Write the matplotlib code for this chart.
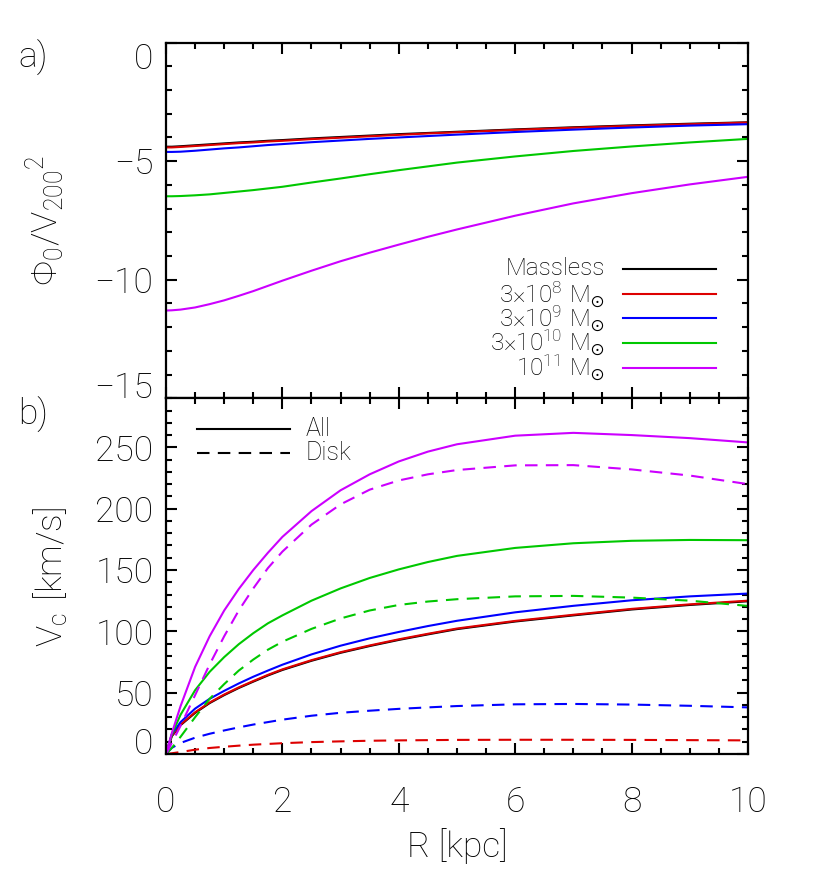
import matplotlib
matplotlib.use("Agg")
import matplotlib.pyplot as plt
from matplotlib.ticker import MultipleLocator

plt.rcParams['font.family'] = ['Roboto', 'DejaVu Sans']
plt.rcParams['font.weight'] = 'light'
plt.rcParams['axes.labelweight'] = 'light'
plt.rcParams['mathtext.fontset'] = 'dejavusans'
plt.rcParams['mathtext.default'] = 'regular'
plt.rcParams['axes.unicode_minus'] = True

# radius grid [kpc]
R = [0, 0.1, 0.25, 0.5, 0.75, 1, 1.25, 1.5, 1.75, 2, 2.5, 3, 3.5, 4, 4.5, 5, 6, 7, 8, 9, 10]

# panel a: central potential / V200^2
phi_massless = [-4.39, -4.39, -4.37, -4.33, -4.29, -4.25, -4.21, -4.18, -4.14, -4.11, -4.04, -3.98, -3.92, -3.86, -3.81, -3.76, -3.66, -3.57, -3.49, -3.42, -3.36]
phi_3e8 = [-4.42, -4.42, -4.40, -4.36, -4.32, -4.28, -4.24, -4.21, -4.17, -4.14, -4.07, -4.01, -3.95, -3.89, -3.83, -3.78, -3.68, -3.59, -3.51, -3.44, -3.37]
phi_3e9 = [-4.61, -4.61, -4.60, -4.56, -4.51, -4.46, -4.42, -4.37, -4.32, -4.28, -4.20, -4.13, -4.06, -4.00, -3.94, -3.88, -3.77, -3.67, -3.58, -3.50, -3.44]
phi_3e10 = [-6.48, -6.48, -6.47, -6.44, -6.40, -6.34, -6.28, -6.22, -6.15, -6.08, -5.90, -5.73, -5.55, -5.38, -5.22, -5.06, -4.80, -4.57, -4.38, -4.21, -4.06]
phi_1e11 = [-11.30, -11.29, -11.26, -11.17, -11.03, -10.87, -10.68, -10.48, -10.26, -10.04, -9.62, -9.22, -8.86, -8.52, -8.19, -7.88, -7.30, -6.78, -6.35, -5.98, -5.66]

# panel b: circular velocity, all components [km/s]
vc_massless = [0, 14.5, 23.5, 33.5, 41.5, 48, 53.8, 59, 64, 68.5, 76, 82.5, 88, 93, 97.5, 101.8, 108, 113, 117.8, 121.5, 124.5]
vc_3e8 = [0, 15, 24, 34, 42, 48.5, 54.3, 59.5, 64.5, 69, 76.5, 83, 88.5, 93.5, 98, 102.3, 108.5, 113.5, 118.3, 122, 125]
vc_3e9 = [0, 16, 26, 37, 45, 51.5, 57.5, 63, 68, 72.8, 81.2, 88.3, 94.3, 99.5, 104.3, 108.6, 115.5, 120.8, 125.3, 128.5, 130.8]
vc_3e10 = [0, 16, 32, 52, 67, 79, 89.5, 98.5, 106.5, 113, 125, 135, 143.5, 150.5, 156.5, 161.5, 168, 171.8, 173.8, 174.5, 174.3]
vc_1e11 = [0, 17, 39, 71, 96, 117, 134.5, 150, 164, 177, 198, 215, 228, 238.5, 246.5, 252.5, 259.5, 261.8, 260, 257.5, 254]

# disk only
vd_3e8 = [0, 0.6, 1.6, 3.5, 4.9, 5.9, 6.8, 7.6, 8.2, 8.8, 9.7, 10.3, 10.8, 11.1, 11.3, 11.5, 11.6, 11.6, 11.5, 11.3, 11.1]
vd_3e9 = [0, 5, 9, 13.3, 16.5, 19.2, 21.7, 24, 26, 28, 31.2, 33.6, 35.3, 36.8, 38, 39.1, 40.5, 40.8, 40.3, 39.3, 38]
vd_3e10 = [0, 5, 14, 30, 45, 57, 68, 77, 85, 91.5, 102, 110.5, 117, 121.5, 124.3, 126.2, 128.5, 128.9, 127.5, 125, 120.7]
vd_1e11 = [0, 9, 23, 48, 73, 96, 117, 135, 151.5, 165, 187, 203.5, 215.5, 223, 228, 231.5, 235.3, 235.5, 232, 227, 220]

labels = ['Massless', r'$3{\times}10^{8}\ M_{\odot}$', r'$3{\times}10^{9}\ M_{\odot}$',
          r'$3{\times}10^{10}\ M_{\odot}$', r'$10^{11}\ M_{\odot}$']
colors = ['black', '#dd0000', '#0000ff', '#00c800', '#cc00ff']

phis = [phi_massless, phi_3e8, phi_3e9, phi_3e10, phi_1e11]
vcs = [vc_massless, vc_3e8, vc_3e9, vc_3e10, vc_1e11]
vds = [None, vd_3e8, vd_3e9, vd_3e10, vd_1e11]

lw = 1.5
dash = (0, (6.0, 4.0))
fs = 25.5
lfs = 17.5

fig = plt.figure(figsize=(8.3, 8.88), dpi=100)
ax1 = fig.add_axes([0.2, 0.5515, 0.7012, 0.4005])
ax2 = fig.add_axes([0.2, 0.1509, 0.7012, 0.4006])

for phi, c in zip(phis, colors):
    ax1.plot(R, phi, color=c, lw=lw)

for vc, vd, c in zip(vcs, vds, colors):
    ax2.plot(R, vc, color=c, lw=lw)
    if vd is not None:
        ax2.plot(R, vd, color=c, lw=lw, linestyle=dash)

# legend, panel a (text right aligned, line on the right)
leg_y = [0.364, 0.294, 0.225, 0.1555, 0.086]
for lab, c, y in zip(labels, colors, leg_y):
    ax1.plot([0.785, 0.945], [y, y], color=c, lw=lw, transform=ax1.transAxes)
    ax1.text(0.754, y, lab, ha='right', va='center', fontsize=lfs, transform=ax1.transAxes)

# legend, panel b
ax2.plot([0.053, 0.213], [0.913, 0.913], color='black', lw=lw, transform=ax2.transAxes)
ax2.plot([0.053, 0.213], [0.847, 0.847], color='black', lw=lw, linestyle=dash, transform=ax2.transAxes)
ax2.text(0.239, 0.913, 'All', ha='left', va='center', fontsize=lfs + 0.5, transform=ax2.transAxes)
ax2.text(0.239, 0.847, 'Disk', ha='left', va='center', fontsize=lfs + 0.5, transform=ax2.transAxes)

ax1.set_xlim(0, 10)
ax1.set_ylim(-15, 0)
ax1.yaxis.set_major_locator(MultipleLocator(5))
ax1.yaxis.set_minor_locator(MultipleLocator(1))
ax2.set_xlim(0, 10)
ax2.set_ylim(0, 290)
ax2.yaxis.set_major_locator(MultipleLocator(50))
ax2.yaxis.set_minor_locator(MultipleLocator(10))

for ax in (ax1, ax2):
    ax.xaxis.set_major_locator(MultipleLocator(2))
    ax.xaxis.set_minor_locator(MultipleLocator(0.5))
    ax.tick_params(which='both', direction='in', top=True, right=True, width=1.5)
    ax.tick_params(which='major', length=8)
    ax.tick_params(which='minor', length=4.5)
    ax.tick_params(axis='y', labelsize=fs, pad=9)
    ax.tick_params(axis='x', labelsize=fs, pad=23)
    for s in ax.spines.values():
        s.set_linewidth(1.6)

ax1.tick_params(axis='x', labelbottom=False)
ax2.set_xlabel('R [kpc]', fontsize=fs, fontweight='light', labelpad=6)

# edge labels sit inside the axis range, as in the original
fig.canvas.draw()
for t in ax1.yaxis.get_major_ticks():
    v = t.get_loc()
    if abs(v) < 1e-6:
        t.label1.set_va('top')
    elif abs(v + 15) < 1e-6:
        t.label1.set_va('baseline')
for t in ax2.yaxis.get_major_ticks():
    if abs(t.get_loc()) < 1e-6:
        t.label1.set_va('baseline')

fig.text(45 / 830, 1 - 220 / 888, r'$\Phi_0/V_{200}{}^{2}$', rotation=90, ha='center', va='center', fontsize=fs)
fig.text(51 / 830, 1 - 577 / 888, r'$V_c\ $[km/s]', rotation=90, ha='center', va='center', fontsize=fs)
fig.text(33 / 830, 1 - 58 / 888, 'a)', ha='center', va='center', fontsize=fs)
fig.text(33 / 830, 1 - 415 / 888, 'b)', ha='center', va='center', fontsize=fs)

fig.savefig('out.png', dpi=100)
